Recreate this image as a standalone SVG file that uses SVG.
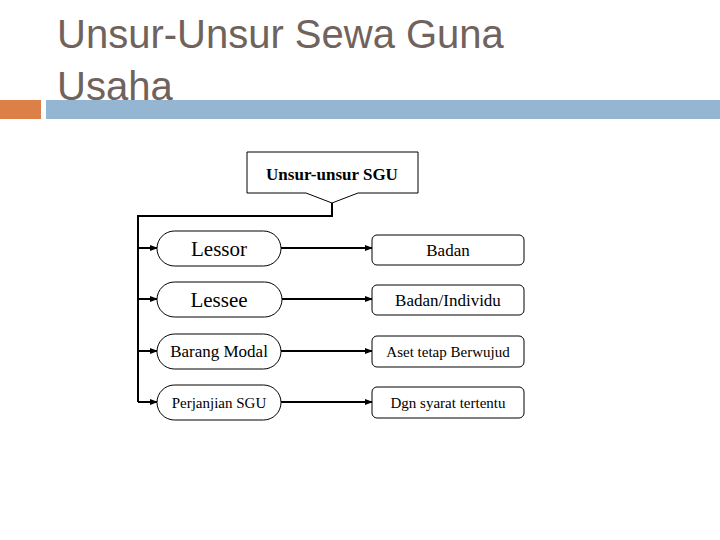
<svg xmlns="http://www.w3.org/2000/svg" width="720" height="540" viewBox="0 0 720 540">
<style>
.t{font-family:"Liberation Serif",serif;fill:#000;text-anchor:middle}
.n{fill:#fff;stroke:#000;stroke-width:1}
.c{fill:none;stroke:#000;stroke-width:2}
</style>
<defs><marker id="a" markerWidth="8" markerHeight="8" refX="7" refY="4" orient="auto" markerUnits="userSpaceOnUse"><path d="M0,1 L8,4 L0,7 Z" fill="#000"/></marker></defs>
<rect width="720" height="540" fill="#fff"/>
<text x="57" y="48" font-family="Liberation Sans,sans-serif" font-size="40" fill="#70625c">Unsur-Unsur Sewa Guna</text>
<text x="57" y="100" font-family="Liberation Sans,sans-serif" font-size="40" fill="#70625c">Usaha</text>
<rect x="0" y="100" width="41" height="19" fill="#dd8047"/>
<rect x="46" y="100" width="674" height="19" fill="#94b6d2"/>
<g id="root"><path class="n" d="M247,152 H418 V193 H358 L332,203 L306,193 H247 Z"/><text class="t" x="332" y="180" font-size="17" font-weight="bold">Unsur-unsur SGU</text></g>
<g id="connectors">
<path class="c" d="M332,203 V216 H138 V402"/>
<path class="c" d="M138,248 H157" marker-end="url(#a)"/>
<path class="c" d="M138,299 H157" marker-end="url(#a)"/>
<path class="c" d="M138,351 H157" marker-end="url(#a)"/>
<path class="c" d="M138,402 H157" marker-end="url(#a)"/>
<path class="c" d="M281,248 H372" marker-end="url(#a)"/>
<path class="c" d="M282,299 H372" marker-end="url(#a)"/>
<path class="c" d="M281,351 H372" marker-end="url(#a)"/>
<path class="c" d="M281,402 H372" marker-end="url(#a)"/>
</g>
<g id="lessor"><rect class="n" x="157" y="231" width="124" height="35" rx="17.5"/><text class="t" x="219" y="256" font-size="21">Lessor</text></g>
<g id="lessee"><rect class="n" x="157" y="282" width="125" height="35" rx="17.5"/><text class="t" x="219" y="307" font-size="21">Lessee</text></g>
<g id="barang"><rect class="n" x="157" y="334" width="124" height="35" rx="17.5"/><text class="t" x="219" y="357" font-size="17">Barang Modal</text></g>
<g id="perjanjian"><rect class="n" x="157" y="385" width="124" height="35" rx="17.5"/><text class="t" x="219" y="408" font-size="15">Perjanjian SGU</text></g>
<g id="badan"><rect class="n" x="372" y="235" width="152" height="30" rx="5"/><text class="t" x="448" y="256" font-size="17">Badan</text></g>
<g id="badanind"><rect class="n" x="372" y="285" width="152" height="30" rx="5"/><text class="t" x="448" y="306" font-size="17">Badan/Individu</text></g>
<g id="aset"><rect class="n" x="372" y="336" width="152" height="31" rx="5"/><text class="t" x="448" y="357" font-size="15">Aset tetap Berwujud</text></g>
<g id="dgn"><rect class="n" x="372" y="387" width="152" height="31" rx="5"/><text class="t" x="448" y="408" font-size="15">Dgn syarat tertentu</text></g>
</svg>
